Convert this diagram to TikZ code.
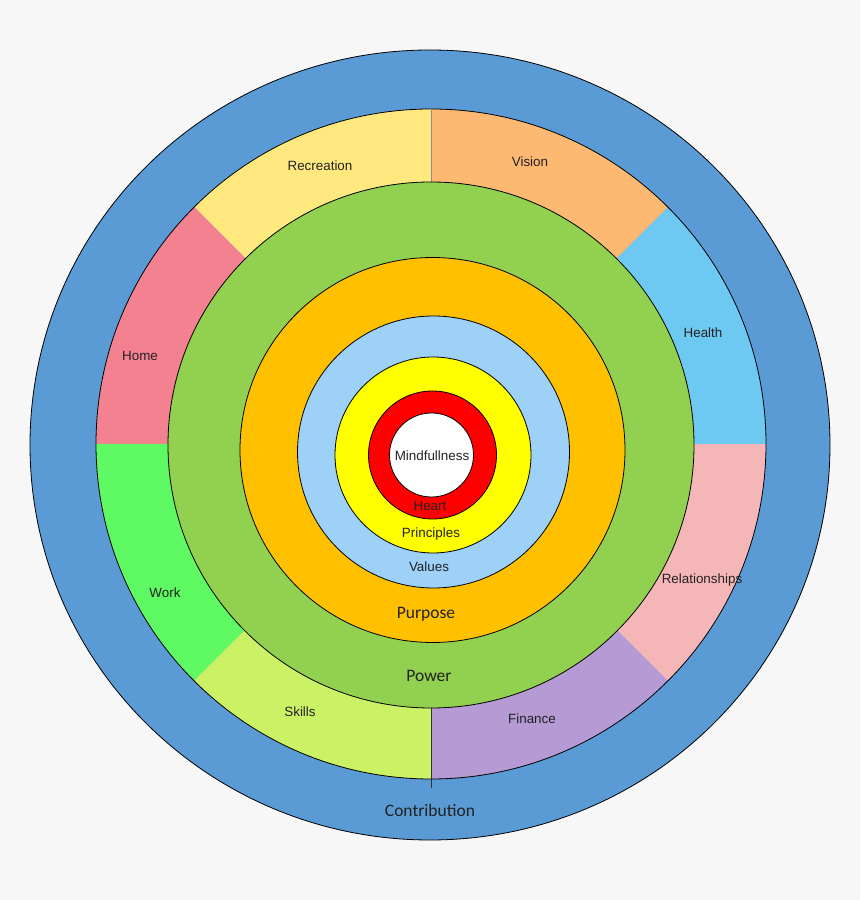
\documentclass[tikz,border=0pt]{standalone}
\usepackage{fontspec}
\setmainfont{Liberation Sans}
\newfontfamily\calib{Carlito}
\usepackage{tikz}
\definecolor{paper}{HTML}{F7F7F7}
\definecolor{contrib}{HTML}{5B9BD5}
\definecolor{recr}{HTML}{FFE97F}
\definecolor{vision}{HTML}{FDB872}
\definecolor{health}{HTML}{6DC9F1}
\definecolor{relat}{HTML}{F5B6B7}
\definecolor{finance}{HTML}{B59AD3}
\definecolor{skills}{HTML}{CBF264}
\definecolor{work}{HTML}{5FF964}
\definecolor{home}{HTML}{F4818F}
\definecolor{power}{HTML}{92D050}
\definecolor{purpose}{HTML}{FFC000}
\definecolor{values}{HTML}{9DD1F7}
\definecolor{princ}{HTML}{FFFF00}
\definecolor{heart}{HTML}{FF0000}
\definecolor{ink}{HTML}{222222}
\tikzset{
  ring/.style={draw=black,line width=0.8pt},
  seglabel/.style={text=ink,font=\fontsize{13.4}{16}\selectfont},
  biglabel/.style={text=ink,font=\calib\fontsize{17.5}{20}\selectfont}
}

\begin{document}
\begin{tikzpicture}[x=1pt,y=1pt]
\fill[paper] (0,0) rectangle (860,900);
\useasboundingbox (0,0) rectangle (860,900);
% outer ring
\filldraw[ring,fill=contrib] (430,455) ellipse[x radius=400,y radius=395];
% eight areas
\begin{scope}[shift={(431,456)}]
\fill[recr] (0,0) -- (90:335) arc[start angle=90,end angle=135,radius=335] -- cycle;
\fill[home] (0,0) -- (135:335) arc[start angle=135,end angle=180,radius=335] -- cycle;
\fill[work] (0,0) -- (180:335) arc[start angle=180,end angle=225,radius=335] -- cycle;
\fill[skills] (0,0) -- (225:335) arc[start angle=225,end angle=270,radius=335] -- cycle;
\fill[finance] (0,0) -- (270:335) arc[start angle=270,end angle=315,radius=335] -- cycle;
\fill[relat] (0,0) -- (315:335) arc[start angle=315,end angle=360,radius=335] -- cycle;
\fill[health] (0,0) -- (0:335) arc[start angle=0,end angle=45,radius=335] -- cycle;
\fill[vision] (0,0) -- (45:335) arc[start angle=45,end angle=90,radius=335] -- cycle;
\draw[ring] (0,0) circle (335);
\draw[black!45,line width=0.5pt] (90:258) -- (90:335);
\draw[black!80,line width=0.6pt] (270:262) -- (270:344);
\filldraw[ring,fill=power] (0,-1) circle (263);
\end{scope}
% inner circles
\filldraw[ring,fill=purpose] (432.5,450) circle (192.5);
\filldraw[ring,fill=values] (433.5,448) circle (136);
\filldraw[ring,fill=princ] (433,445) circle (98);
\filldraw[ring,fill=heart] (432.5,445) circle (64);
\filldraw[ring,fill=white] (431.5,445) circle (42);
% labels
\node[seglabel] (recl) at (320,734) {Recreation};
\node[seglabel] (visl) at (530,738) {Vision};
\node[seglabel] (heal) at (703,567) {Health};
\node[seglabel] (rell) at (702,320) {Relationships};
\node[seglabel] (finl) at (532,181) {Finance};
\node[seglabel] (skil) at (300,188) {Skills};
\node[seglabel] (worl) at (165,307) {Work};
\node[seglabel] (homl) at (140,544) {Home};
\node[seglabel] (minl) at (432,444) {Mindfullness};
\node[seglabel] (hrtl) at (430,394) {Heart};
\node[seglabel] (prnl) at (431,366) {Principles};
\node[seglabel] (vall) at (429,333) {Values};
\node[biglabel] (purl) at (426,286) {Purpose};
\node[biglabel] (powl) at (429,224) {Power};
\node[biglabel] (conl) at (430,90) {Contribution};
\end{tikzpicture}
\end{document}
